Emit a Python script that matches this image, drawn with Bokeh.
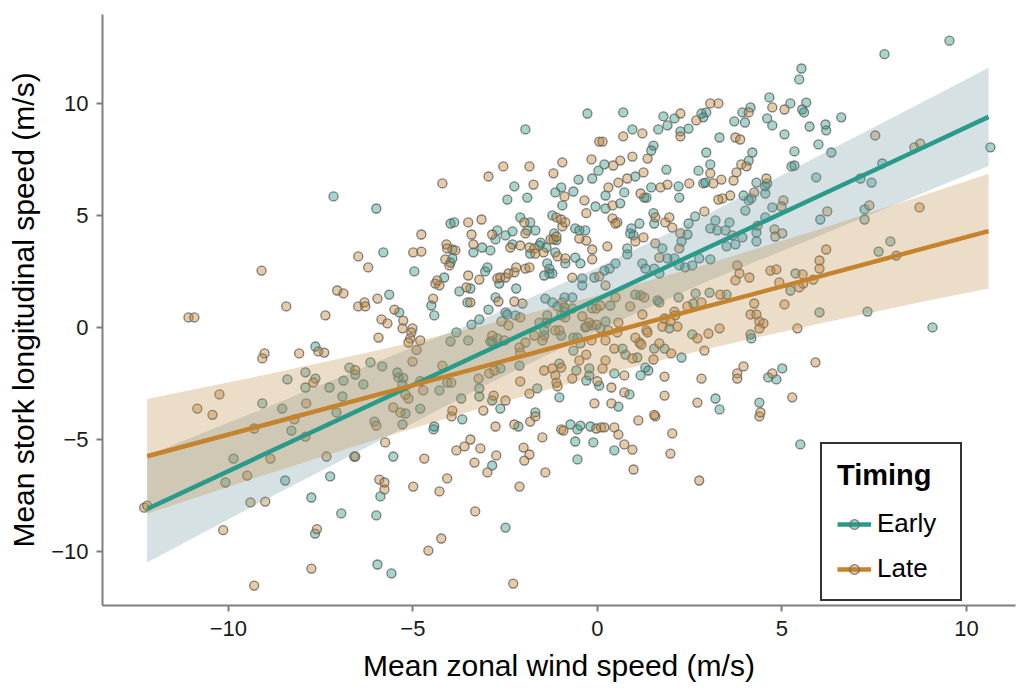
from bokeh.plotting import figure
from bokeh.models import ColumnDataSource, FixedTicker, Legend, LegendItem, Range1d
from bokeh.embed import file_html
from bokeh.resources import INLINE

# ---------------- data ----------------
early_pts = [
    (-7.15, 5.85), (-5.99, 5.31), (-0.27, 9.55), (-1.95, 8.84), (0.03, 7.0), (-0.14, 6.65), (-0.51, 6.6),
    (-2.25, 6.3), (-2.44, 5.71), (-1.9, 5.8), (-0.98, 6.25), (-1.14, 6.03), (-0.65, 6.07), (-0.95, 5.45), (-0.05, 5.4),
    (5.53, 11.56), (5.47, 11.07), (0.7, 9.6), (4.66, 10.27), (5.23, 10.0), (5.66, 10.04), (5.55, 9.73), (5.6, 9.6),
    (6.61, 9.38), (6.18, 9.06), (6.2, 8.8), (5.75, 8.97), (5.07, 8.62), (4.6, 9.33), (4.74, 9.02), (4.15, 9.82),
    (3.93, 9.6), (3.71, 9.2), (4.0, 9.15), (2.95, 9.6), (2.82, 9.55), (2.87, 9.38), (2.09, 9.33), (1.79, 9.42),
    (1.9, 9.02), (1.65, 8.84), (2.25, 8.75), (2.47, 8.88), (0.95, 8.84), (3.31, 8.48), (5.99, 8.17), (6.34, 7.81),
    (5.34, 7.86), (1.52, 8.12), (1.46, 7.9), (2.95, 7.81), (4.2, 7.81), (4.1, 7.45), (3.06, 7.28), (2.74, 7.0),
    (5.26, 7.19), (5.34, 7.23), (5.93, 6.7), (1.87, 7.05), (1.03, 6.74), (0.19, 7.28), (0.73, 6.03), (0.22, 5.89),
    (1.27, 5.8), (1.33, 5.8), (1.46, 6.25), (2.2, 6.3), (2.22, 5.8), (2.87, 6.43), (2.93, 6.47), (4.31, 6.47),
    (4.6, 6.43), (4.55, 6.3), (4.55, 5.98), (4.17, 5.76), (4.1, 5.67), (3.96, 5.89), (4.74, 5.36), (4.01, 5.22),
    (0.62, 5.54), (0.22, 5.31), (1.52, 5.1),
    (9.54, 12.8), (7.78, 12.2), (10.65, 8.04), (7.72, 7.32), (7.13, 6.65), (7.43, 6.47), (7.24, 5.27),
    (7.24, 4.82), (7.94, 3.84), (7.62, 3.39), (8.1, 3.21), (7.32, 0.71), (9.08, 0.0),
    (-7.64, -0.85), (-6.72, -1.79), (-7.91, -2.0), (-7.64, -2.28), (-8.4, -2.32), (-6.88, -2.37), (-7.26, -2.68),
    (-7.91, -2.68), (-6.91, -3.08), (-9.08, -3.39), (-8.54, -3.62), (-7.07, -3.79),
    (-8.29, -4.6), (-9.86, -5.85), (-10.08, -6.92), (-8.46, -6.83), (-7.24, -6.65), (-7.75, -7.59), (-6.94, -8.3),
    (-7.65, -9.2), (-6.59, -5.76),
    (-6.04, -4.2), (-5.28, -4.33), (-4.42, -4.42), (-4.44, -4.55), (-3.66, -4.1), (-5.53, -5.76), (-5.88, -7.54),
    (-5.99, -8.39), (-5.96, -10.58), (-5.58, -10.98), (-2.49, -8.93), (-2.85, -6.16), (-2.14, -4.42),
    (-0.73, -4.33), (-0.46, -4.38), (-0.54, -4.55), (-0.6, -5.09), (-0.54, -5.89), (-0.19, -4.42), (-0.11, -5.13),
    (0.46, -5.49), (5.5, -5.22),
    (1.14, 4.64), (0.92, 4.42), (0.98, 4.11), (0.89, 4.2), (2.47, 4.64), (2.44, 4.15), (2.28, 3.84), (2.65, 4.96),
    (1.54, 4.64), (1.76, 3.53), (0.81, 3.53), (0.81, 3.26), (1.9, 3.08), (2.09, 3.08), (0.49, 2.86), (0.33, 2.63),
    (0.19, 2.54), (1.22, 2.86), (1.3, 2.63), (1.54, 2.63), (1.68, 2.41), (2.22, 2.77), (2.38, 2.68), (2.57, 2.77),
    (2.76, 3.08), (3.06, 3.04), (3.2, 4.78), (3.06, 4.42), (3.25, 4.33), (3.47, 4.33), (3.58, 4.69), (3.5, 3.62),
    (3.74, 3.71), (3.93, 4.02), (4.31, 4.24), (4.31, 3.84), (4.55, 4.91), (6.04, 4.82), (5.37, 2.41), (5.23, 1.65),
    (3.5, 1.47), (3.04, 1.56), (2.66, 1.52), (2.6, 1.07), (2.2, 1.34), (1.63, 1.21), (1.68, 1.12), (1.17, 1.43),
    (1.95, -0.04), (1.54, -0.94), (1.82, -0.94), (2.28, -1.34), (2.57, -0.31), (4.15, -0.31), (4.17, -0.49),
    (6.02, 0.67), (4.63, -2.23), (4.85, -2.32), (5.01, -1.83), (1.38, -1.92), (1.3, -1.79), (1.17, -2.14),
    (0.46, -2.05), (0.87, -2.99), (1.08, -1.34), (0.76, -1.21), (0.68, -0.94), (0.57, -3.53), (3.2, -3.17),
    (3.31, -3.66), (4.39, -3.35), (0.22, 0.27), (1.03, 1.47), (0.35, 0.98),
    (-5.8, 3.35), (-4.96, 2.5), (-5.64, 1.47), (-5.37, 0.67), (-6.15, -1.56), (-5.83, -1.74), (-5.42, -2.01),
    (-5.39, -2.23), (-6.34, -2.54), (-5.28, -2.54), (-5.2, -3.84), (-4.8, -3.62), (-3.69, -3.17), (-3.2, -2.72),
    (-2.85, -3.26), (-2.63, -3.62), (-2.63, -1.83), (-1.68, -3.79), (-1.03, -1.61), (-1.03, -3.12), (-0.57, -1.92),
    (-0.22, -1.83), (0.05, -2.6), (-0.65, -1.03), (-0.33, 0.0), (-1.36, 0.54), (-1.44, -0.36), (-0.98, -0.36),
    (-0.65, -0.45), (-2.9, -0.62), (-2.49, 0.67), (-2.44, 0.58), (-2.22, 0.54), (-2.2, 1.74), (-2.76, 1.34),
    (-2.95, 0.8), (-3.2, 0.36), (-3.41, 0.13), (-3.82, -0.22), (-3.98, -0.62), (-3.5, -0.58), (-2.85, -0.62),
    (-4.42, 0.54), (-4.5, 0.98), (-3.74, 1.61), (-3.44, 1.74), (-3.52, 1.12), (-3.04, 2.5), (-2.98, 2.68),
    (-2.66, 1.96), (-4.15, 2.23), (-3.98, 2.9), (-3.93, 3.08), (-3.93, 3.48), (-3.98, 4.64), (-3.88, 4.69),
    (-3.36, 3.35), (-3.12, 3.57), (-2.9, 3.44), (-2.71, 4.33), (-2.76, 3.93), (-2.49, 4.11), (-2.3, 4.29),
    (-2.3, 3.71), (-2.09, 4.91), (-1.82, 4.69), (-1.9, 4.33), (-1.68, 4.33), (-1.54, 3.79), (-1.57, 3.66),
    (-1.38, 3.57), (-1.82, 3.3), (-1.22, 5.0), (-1.17, 4.2), (-1.11, 3.9), (-0.6, 4.42), (-0.49, 4.33),
    (-0.33, 4.33), (-1.14, 3.35), (-0.6, 3.12), (-0.87, 2.86), (-0.46, 2.86), (-1.36, 2.86), (-1.3, 2.63),
    (-1.3, 2.41), (-1.44, 2.32), (-1.22, 2.41), (-0.41, 2.19), (-0.41, 1.88), (-0.08, 2.23), (-1.41, 1.29),
    (-1.22, 1.12), (-0.89, 1.34), (-0.68, 1.34), (-0.89, 0.89), (-1.08, 0.94), (-0.68, 0.85), (-0.14, 0.85),
    (-1.57, 0.22), (-0.87, 0.67), (-0.98, 0.54), (-1.44, -0.13), (-0.16, 0.09), (0.08, -0.04), (-0.46, -0.71),
    (-0.54, -0.45), (-0.22, -2.14), (-0.3, -2.37), (-2.11, -1.7), (-1.63, -2.72), (-4.07, -2.46), (-4.28, -2.81),
    (-3.2, -3.08), (-2.71, -0.49), (-5.26, -2.25), (-6.56, -2.1),
]
late_pts = [
    (0.05, 8.3), (-2.55, 7.19), (-1.84, 7.19), (-2.95, 6.74), (-4.2, 6.43), (-0.95, 7.37), (-1.19, 6.88),
    (-0.16, 7.5), (-1.73, 6.38), (-0.89, 5.85), (-0.35, 5.67), (-0.3, 5.1),
    (4.74, 9.82), (5.07, 9.73), (4.1, 9.6), (3.28, 10.0), (3.06, 10.0), (2.68, 9.24), (2.25, 9.55), (2.25, 8.53),
    (1.22, 8.66), (0.7, 8.53), (3.74, 8.48), (3.87, 8.39), (0.14, 8.3), (0.95, 7.63), (1.36, 7.54), (3.9, 7.28),
    (4.04, 7.19), (3.06, 6.88), (3.77, 6.92), (1.25, 6.92), (0.81, 6.65), (0.62, 7.45), (0.43, 7.23), (0.57, 6.47),
    (0.3, 6.25), (1.17, 5.98), (1.71, 6.25), (1.9, 6.38), (2.49, 6.43), (3.14, 6.43), (3.36, 6.6), (3.69, 6.56),
    (4.58, 6.65), (4.25, 6.03), (3.6, 5.89), (3.39, 5.76), (3.28, 5.71), (5.04, 5.67), (4.99, 5.4), (6.23, 5.18),
    (2.9, 5.18), (0.41, 5.45),
    (7.53, 8.57), (8.59, 8.04), (8.75, 8.21), (7.37, 5.45), (8.73, 5.36),
    (-9.1, 2.54), (-11.08, 0.45), (-10.92, 0.45), (-8.43, 0.94), (-7.05, 1.65), (-6.88, 1.52), (-7.37, 0.54),
    (-7.56, -1.07), (-7.4, -1.12), (-8.08, -1.16), (-9.02, -1.16), (-9.08, -1.38), (-7.7, -2.46), (-10.24, -2.99),
    (-10.84, -3.62), (-7.89, -3.39), (-10.43, -3.9),
    (-12.28, -8.04), (-12.2, -7.95), (-9.3, -4.51), (-8.21, -4.1), (-7.91, -4.87), (-8.86, -5.85), (-7.34, -5.76),
    (-9.49, -6.61), (-9.4, -7.81), (-9.0, -7.77), (-10.14, -9.05), (-7.6, -9.0), (-7.75, -10.76), (-9.3, -11.52),
    (-5.99, -4.38), (-6.56, -5.76), (-5.75, -5.13), (-4.69, -5.85), (-5.91, -6.79), (-5.77, -6.92), (-5.77, -7.23),
    (-4.99, -7.1), (-4.07, -6.74), (-4.28, -7.32), (-4.58, -9.96), (-4.23, -9.42), (-3.31, -8.21), (-2.28, -11.43),
    (-2.11, -7.1), (-1.41, -6.47), (-2.98, -6.47), (-3.33, -6.03), (-2.74, -5.71), (-3.82, -5.49), (-3.6, -5.31),
    (-3.44, -5.0), (-3.17, -5.4), (-2.0, -5.36), (-1.84, -5.67), (-1.98, -5.94), (-1.49, -4.91), (-2.76, -4.42),
    (-2.25, -4.33), (-1.82, -4.2), (-1.68, -3.97), (-0.98, -4.55), (-0.92, -4.6), (-0.03, -4.51), (0.1, -4.46),
    (-3.95, -3.97),
    (0.19, -4.46), (0.46, -4.46), (0.57, -4.78), (1.11, -4.15), (1.57, -3.97), (0.73, -5.22), (0.95, -5.45),
    (0.98, -6.34), (2.03, -4.73), (1.98, -5.63), (2.76, -6.83), (4.39, -3.97),
    (0.27, 3.62), (0.41, 4.87), (0.54, 4.69), (0.49, 4.64), (1.25, 4.02), (1.57, 4.91), (1.84, 4.69), (1.95, 4.91),
    (2.03, 4.46), (2.25, 4.2), (1.57, 3.75), (2.22, 3.53), (1.03, 3.84), (1.68, 3.12), (3.66, 4.11), (4.34, 4.55),
    (4.8, 4.38), (4.82, 4.06), (5.01, 4.2), (6.2, 3.48), (6.02, 2.99), (6.02, 2.63), (5.85, 2.14), (5.56, 2.37),
    (5.58, 1.96), (5.47, 1.79), (4.93, 2.01), (4.69, 2.54), (4.85, 2.59), (4.12, 2.23), (3.79, 2.77), (3.85, 2.41),
    (3.74, 2.1), (3.33, 1.47), (2.82, 1.12), (2.44, 0.94), (1.27, 1.34), (0.89, 0.94), (1.22, 0.58), (2.09, 0.71),
    (2.11, 0.54), (1.82, 0.4), (1.98, 0.27), (2.17, 0.04), (1.76, 0.04), (1.33, -0.13), (1.36, -0.22), (0.57, 0.22),
    (0.54, -0.22), (0.49, 1.34), (1.14, -0.67), (1.19, -0.76), (1.03, -0.45), (1.68, -0.71), (2.0, -1.16),
    (2.71, -0.49), (3.01, -0.27), (3.31, -0.04), (2.9, -1.03), (4.15, 0.58), (4.31, 0.58), (4.39, 0.27),
    (4.5, 0.18), (4.39, -0.04), (4.25, 1.07), (5.07, 1.03), (5.42, -0.04), (5.91, -1.56), (3.96, -1.74),
    (3.79, -2.05), (3.79, -2.28), (4.74, -2.05), (2.82, -2.28), (1.82, -2.19), (0.73, -2.14), (0.38, -2.68),
    (0.73, -2.9), (1.82, -3.04), (1.52, -1.43), (0.95, -1.38), (0.46, -0.94), (0.22, -1.47), (0.14, -1.83),
    (0.38, -3.39), (2.71, -3.35), (4.42, -3.79), (5.28, -3.12), (1.54, -3.9), (0.22, -0.58), (0.3, -0.13),
    (0.22, 1.88),
    (-6.48, 3.17), (-6.21, 2.68), (-4.99, 3.35), (-4.77, 3.39), (-4.77, 4.15), (-5.96, 1.29), (-6.48, 0.94),
    (-6.31, 1.12), (-6.29, 0.94), (-5.5, 0.8), (-5.85, 0.36), (-5.69, 0.18), (-5.26, 0.31), (-5.28, -0.04),
    (-5.01, -0.04), (-5.04, -0.22), (-5.07, -0.49), (-5.12, -0.67), (-4.8, -0.58), (-5.93, -0.45), (-5.01, -1.52),
    (-4.2, -1.7), (-4.72, -2.81), (-3.96, -2.46), (-5.12, -3.17), (-5.53, -3.57), (-5.34, -3.79), (-3.93, -3.71),
    (-3.22, -2.28), (-3.09, -3.71), (-2.49, -3.26), (-2.93, -2.05), (-2.79, -1.92), (-2.11, -0.89), (-2.09, -1.12),
    (-1.95, -0.67), (-2.09, -2.41), (-1.44, -1.92), (-1.22, -1.83), (-1.14, -2.14), (-0.98, -1.79), (-1.11, -2.46),
    (-1.08, -2.63), (-0.68, -2.28), (-0.49, -1.47), (-0.08, -3.39), (0.0, -2.4), (-0.22, 0.22), (-1.38, 0.22),
    (-0.87, 0.45), (-1.14, -0.13), (-1.71, -0.36), (-1.49, -0.58), (-2.85, -0.36), (-2.52, -0.58), (-2.41, 0.09),
    (-2.6, 0.27), (-2.09, 0.45), (-2.25, 1.16), (-2.03, 1.07), (-2.68, 1.16), (-4.45, 1.29), (-3.55, 1.79),
    (-3.44, 1.12), (-3.2, 2.14), (-3.5, 2.32), (-2.71, 2.19), (-2.63, 2.23), (-4.39, 1.96), (-4.28, 1.88),
    (-4.34, 2.1), (-2.49, 2.23), (-2.41, 2.41), (-2.25, 2.46), (-2.2, 2.68), (-1.95, 2.63), (-1.84, 2.68),
    (-4.12, 3.04), (-4.01, 2.77), (-4.09, 3.71), (-4.07, 3.53), (-3.85, 3.44), (-3.5, 4.69), (-3.14, 4.82),
    (-3.41, 4.15), (-3.36, 3.71), (-2.85, 4.15), (-2.36, 3.57), (-2.09, 3.66), (-1.84, 3.57), (-1.71, 3.53),
    (-1.98, 4.69), (-1.95, 4.2), (-1.46, 3.35), (-1.68, 3.3), (-1.11, 4.91), (-0.98, 4.82), (-0.95, 4.51),
    (-1.27, 3.93), (-1.19, 3.93), (-1.11, 4.06), (-0.87, 4.69), (-0.3, 3.88), (-0.49, 3.97), (-1.08, 3.17),
    (-0.87, 3.08), (-0.14, 3.48), (-0.14, 3.04), (-0.68, 2.23), (0.05, 2.28), (-0.95, 1.12), (-0.41, 0.5),
    (-0.03, 0.85), (0.08, 0.98), (-1.03, -0.13), (-0.3, 0.04), (-0.03, 0.13), (-0.16, -0.58), (-0.3, -1.21),
    (-2.81, -3.04), (-1.84, -2.95), (-4.8, -2.4), (-6.56, -1.9), (-5.2, -3.0), (-4.9, -1.0),
]
early_x = [p[0] for p in early_pts]
early_y = [p[1] for p in early_pts]
late_x = [p[0] for p in late_pts]
late_y = [p[1] for p in late_pts]

fit_x = [-12.2, -9, -6, -3, 0, 3, 6, 9, 10.6]
early_fit = [-8.1, -5.64, -3.34, -1.04, 1.26, 3.57, 5.87, 8.17, 9.4]
early_lo = [-10.49, -7.69, -5.13, -2.54, -0.15, 2.07, 4.08, 6.12, 7.21]
early_hi = [-5.71, -3.59, -1.55, 0.46, 2.67, 5.07, 7.66, 10.22, 11.59]
late_fit = [-5.75, -4.34, -3.02, -1.7, -0.37, 0.95, 2.27, 3.6, 4.3]
late_lo = [-8.31, -6.57, -5.0, -3.53, -2.17, -0.95, 0.17, 1.21, 1.74]
late_hi = [-3.19, -2.11, -1.04, 0.13, 1.43, 2.85, 4.37, 5.99, 6.86]

groups = ["Early", "Late"]
x_ticks = [-10, -5, 0, 5, 10]
y_ticks = [-10, -5, 0, 5, 10]
tick_text = {-10: "\u221210", -5: "\u22125", 0: "0", 5: "5", 10: "10"}
x_title = "Mean zonal wind speed (m/s)"
y_title = "Mean stork longitudinal speed (m/s)"
legend_title = "Timing"

# ---------------- styling ----------------
EARLY_C = "#2a9a8b"
LATE_C = "#c4832c"
FONT = "Liberation Sans"
AXIS_C = "#7f7f7f"

p = figure(width=1019, height=689, output_backend="svg", toolbar_location=None,
           x_range=Range1d(-13.41, 11.33), y_range=Range1d(-12.41, 13.97),
           min_border_left=102, min_border_right=4, min_border_top=14, min_border_bottom=84)
p.outline_line_color = None
p.xgrid.visible = False
p.ygrid.visible = False
p.background_fill_color = "white"
p.border_fill_color = "white"

src_e = ColumnDataSource(dict(x=early_x, y=early_y))
src_l = ColumnDataSource(dict(x=late_x, y=late_y))
sc_e = p.scatter("x", "y", source=src_e, size=9, fill_color=EARLY_C, fill_alpha=0.42,
                 line_color="#666666", line_alpha=0.85, line_width=1.3)
sc_l = p.scatter("x", "y", source=src_l, size=9, fill_color=LATE_C, fill_alpha=0.42,
                 line_color="#666666", line_alpha=0.85, line_width=1.3)

p.varea(x=fit_x, y1=early_lo, y2=early_hi, fill_color="#739b9e", fill_alpha=0.3)
p.varea(x=fit_x, y1=late_lo, y2=late_hi, fill_color="#c08e48", fill_alpha=0.3)
ln_e = p.line(fit_x, early_fit, line_color=EARLY_C, line_width=4.5)
ln_l = p.line(fit_x, late_fit, line_color=LATE_C, line_width=4.5)

for ax, ticks, title in ((p.xaxis[0], x_ticks, x_title), (p.yaxis[0], y_ticks, y_title)):
    ax.ticker = FixedTicker(ticks=ticks)
    ax.major_label_overrides = {t: tick_text[t] for t in ticks}
    ax.axis_label = title
    ax.axis_line_color = AXIS_C
    ax.axis_line_width = 2
    ax.major_tick_line_color = AXIS_C
    ax.major_tick_line_width = 2
    ax.major_tick_out = 6
    ax.major_tick_in = 0
    ax.minor_tick_out = 0
    ax.minor_tick_in = 0
    ax.major_label_text_font = FONT
    ax.major_label_text_font_size = "22px"
    ax.major_label_text_color = "#1a1a1a"
    ax.axis_label_text_font = FONT
    ax.axis_label_text_font_size = "30px"
    ax.axis_label_text_font_style = "normal"
    ax.axis_label_text_color = "#000000"
p.xaxis[0].major_label_standoff = 9
p.xaxis[0].axis_label_standoff = 10
p.yaxis[0].major_label_standoff = 8
p.yaxis[0].axis_label_standoff = 8

legend = Legend(items=[LegendItem(label=groups[0], renderers=[ln_e, sc_e]),
                       LegendItem(label=groups[1], renderers=[ln_l, sc_l])],
                title=legend_title, location=(718, 4))
legend.title_text_font = FONT
legend.title_text_font_size = "29px"
legend.title_text_font_style = "bold"
legend.title_text_color = "#000000"
legend.title_standoff = 16
legend.label_text_font = FONT
legend.label_text_font_size = "26px"
legend.label_text_color = "#000000"
legend.glyph_width = 34
legend.glyph_height = 24
legend.label_standoff = 6
legend.label_width = 68
legend.spacing = 14
legend.padding = 15
legend.border_line_color = "#333333"
legend.border_line_alpha = 1.0
legend.border_line_width = 2.5
legend.background_fill_color = "white"
legend.background_fill_alpha = 1.0
p.add_layout(legend)

open("out.html", "w").write(file_html(p, INLINE))
